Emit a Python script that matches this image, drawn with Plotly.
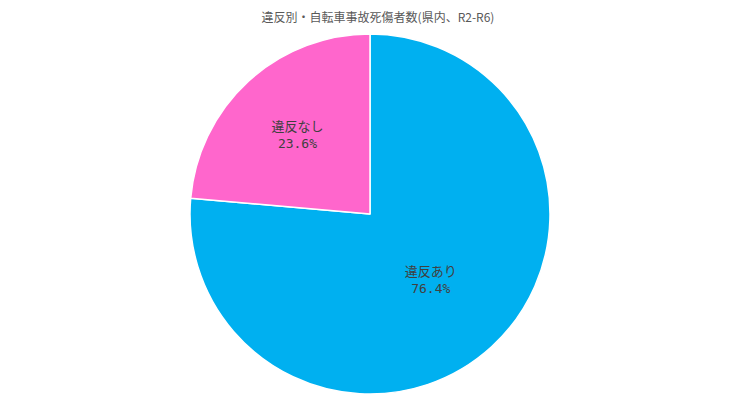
import plotly.graph_objects as go

labels = ["違反あり", "違反なし"]
values = [76.4, 23.6]
colors = ["#00B0F0", "#FF66CC"]

fig = go.Figure(go.Pie(
    labels=labels,
    values=values,
    sort=False,
    direction="clockwise",
    rotation=0,
    marker=dict(colors=colors, line=dict(color="white", width=1.5)),
    texttemplate="%{label}<br>%{percent:.1%}",
    textposition="inside",
    insidetextorientation="horizontal",
    textfont=dict(family="DejaVu Sans Mono, Noto Sans CJK JP", size=13, color="#404040"),
    showlegend=False,
    hoverinfo="label+percent",
))

fig.update_layout(
    title=dict(text="違反別・自転車事故死傷者数(県内、R2-R6)", x=0.5, y=0.976,
               xanchor="center", yanchor="middle",
               font=dict(family="Noto Sans CJK JP", size=12, color="#595959")),
    width=740, height=406,
    margin=dict(l=0, r=16, t=26, b=20),
    paper_bgcolor="white",
)

fig.write_html("out.html")
